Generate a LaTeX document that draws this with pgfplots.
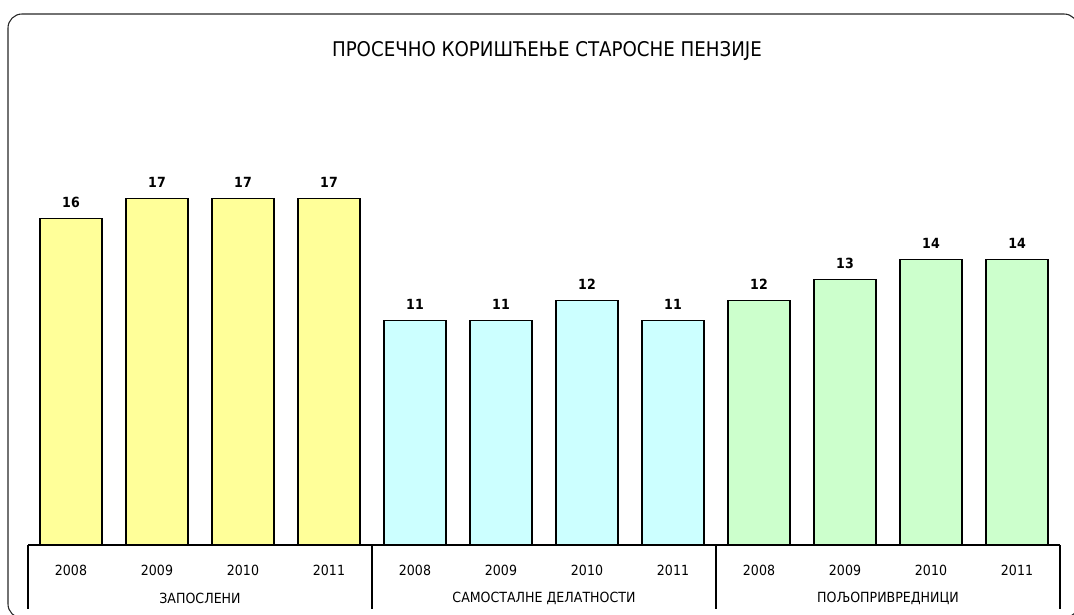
\documentclass[border=0pt]{standalone}
\usepackage{pgfplots}
\pgfplotsset{compat=1.18}
\usepackage{fontspec}
\setmainfont{DejaVu Sans Condensed}
\definecolor{cyel}{HTML}{FFFF99}
\definecolor{ccya}{HTML}{CCFFFF}
\definecolor{cgrn}{HTML}{CCFFCC}
\begin{document}
\begin{tikzpicture}
% 1 px of the reference = 0.75pt; origin at the left end of the x axis
\useasboundingbox (-21pt,-51.75pt) rectangle (784.5pt,408.75pt);
\clip (-21pt,-51.75pt) rectangle (784.5pt,408.75pt);
\draw[line width=0.8pt, rounded corners=10.5pt, black!85]
  (-15pt,-54.75pt) rectangle (787.5pt,398.25pt);
\begin{axis}[
    at={(0,0)}, anchor=south west,
    width=774pt, height=306pt, scale only axis,
    xmin=-0.5, xmax=11.5, ymin=0, ymax=20,
    axis y line=none, axis x line*=bottom,
    x axis line style={line width=0.9pt},
    xtick={0,...,11},
    xticklabels={2008,2009,2010,2011,2008,2009,2010,2011,2008,2009,2010,2011},
    major tick length=0pt,
    xticklabel style={font=\fontsize{10.5}{12}\selectfont, anchor=center, yshift=-18.75pt},
    ytick=\empty,
    clip=false,
    /pgf/number format/assume math mode=true,
    nodes near coords,
    nodes near coords style={font=\bfseries\fontsize{10.5}{12}\selectfont, yshift=4.5pt},
    every axis plot/.append style={ybar, bar width=46.5pt, bar shift=0pt, draw=black, line width=1pt},
  ]
\addplot[fill=cyel] coordinates {(0,16) (1,17) (2,17) (3,17)};
\addplot[fill=ccya] coordinates {(4,11) (5,11) (6,12) (7,11)};
\addplot[fill=cgrn] coordinates {(8,12) (9,13) (10,14) (11,14)};
\draw[line width=0.9pt] (axis cs:-0.5,0) -- ++(0pt,-48pt);
\draw[line width=0.9pt] (axis cs:3.5,0) -- ++(0pt,-48pt);
\draw[line width=0.9pt] (axis cs:7.5,0) -- ++(0pt,-48pt);
\draw[line width=0.9pt] (axis cs:11.5,0) -- ++(0pt,-48pt);
\node[font=\fontsize{10.5}{12}\selectfont, yshift=-39.75pt] at (axis cs:1.5,0) {ЗАПОСЛЕНИ};
\node[font=\fontsize{10.5}{12}\selectfont, yshift=-39.75pt] at (axis cs:5.5,0) {САМОСТАЛНЕ ДЕЛАТНОСТИ};
\node[font=\fontsize{10.5}{12}\selectfont, yshift=-39.75pt] at (axis cs:9.5,0) {ПОЉОПРИВРЕДНИЦИ};
\end{axis}
\node[font=\fontsize{15.2}{17}\selectfont] at (389.25pt,370.5pt)
  {ПРОСЕЧНО КОРИШЋЕЊЕ СТАРОСНЕ ПЕНЗИЈЕ};
\end{tikzpicture}
\end{document}
